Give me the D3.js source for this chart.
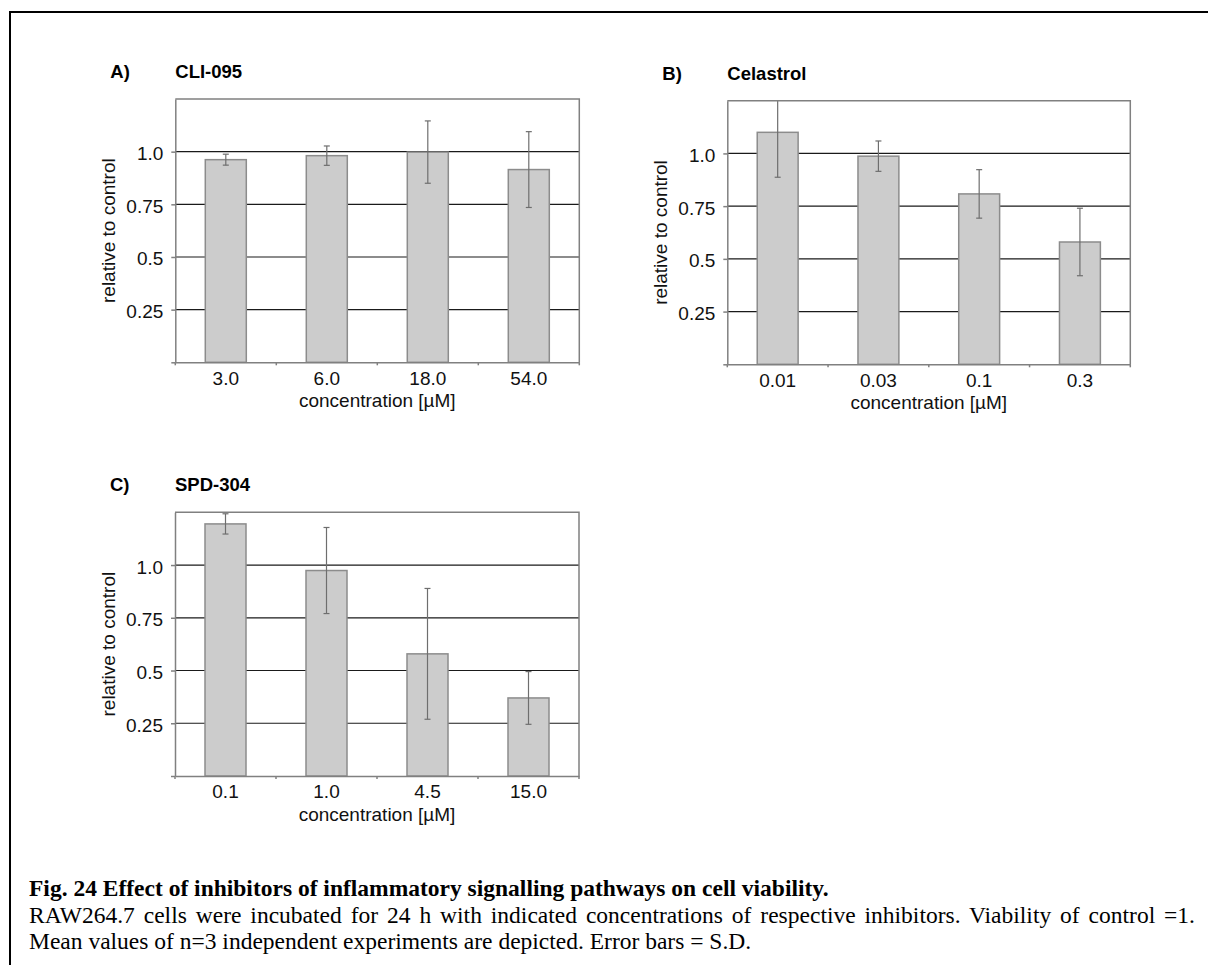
<!DOCTYPE html>
<html><head><meta charset="utf-8">
<script src="https://cdn.jsdelivr.net/npm/d3@7"></script>
<style>body{margin:0;background:#fff} svg{display:block}</style>
</head><body><svg id="c" width="1208" height="965"></svg>
<script>
// ---- data ----
const panelLetters = ["A)", "B)", "C)"];
const panelTitles = ["CLI-095", "Celastrol", "SPD-304"];

const categoriesA = ["3.0", "6.0", "18.0", "54.0"];
const meansA = [0.962, 0.981, 0.998, 0.915];
const sdA = [0.026, 0.046, 0.148, 0.18];

const categoriesB = ["0.01", "0.03", "0.1", "0.3"];
const meansB = [1.10, 0.987, 0.808, 0.58];
const sdB = [0.213, 0.072, 0.115, 0.16];

const categoriesC = ["0.1", "1.0", "4.5", "15.0"];
const meansC = [1.195, 0.974, 0.579, 0.37];
const sdC = [0.048, 0.204, 0.31, 0.125];

const yTickValues = [0, 0.25, 0.5, 0.75, 1.0];
const yTickLabels = ["", "0.25", "0.5", "0.75", "1.0"];
const yMax = 1.25;
const yAxisTitle = "relative to control";
const xAxisTitle = "concentration [µM]";

const captionTitle = "Fig. 24 Effect of inhibitors of inflammatory signalling pathways on cell viability.";
const captionLines = [
  "RAW264.7 cells were incubated for 24 h with indicated concentrations of respective inhibitors. Viability of control =1.",
  "Mean values of n=3 independent experiments are depicted. Error bars = S.D."
];

// ---- drawing ----
const svg = d3.select("#c");
const SANS = "'Liberation Sans', Arial, sans-serif";
const SERIF = "'Liberation Serif', 'Times New Roman', serif";
const GRAY = "#808080";

svg.append("path").attr("d", "M10,965V12H1208")
  .attr("fill", "none").attr("stroke", "#000").attr("stroke-width", 2);

const panels = [
  {cats: categoriesA, m: meansA, sd: sdA, x: 175.3, y: 99, w: 404, h: 263.3},
  {cats: categoriesB, m: meansB, sd: sdB, x: 727.3, y: 100.7, w: 403, h: 263.6},
  {cats: categoriesC, m: meansC, sd: sdC, x: 175, y: 512.3, w: 404, h: 263.7}
];

panels.forEach((p, i) => {
  const g = svg.append("g").attr("transform", `translate(${p.x},${p.y})`);
  const x = d3.scaleBand().domain(p.cats).range([0, p.w]).paddingInner(0.594).paddingOuter(0.297);
  const y = d3.scaleLinear().domain([0, yMax]).range([p.h, 0]);
  const step = x.step();
  const off = (step - x.bandwidth()) / 2;

  g.selectAll(".grid").data(yTickValues.filter(v => v > 0)).join("line")
    .attr("x1", 0).attr("x2", p.w).attr("y1", d => y(d)).attr("y2", d => y(d))
    .attr("stroke", "#1a1a1a").attr("stroke-width", 1.2);

  g.selectAll(".bar").data(p.cats).join("rect")
    .attr("x", d => x(d)).attr("width", x.bandwidth())
    .attr("y", (d, j) => y(p.m[j])).attr("height", (d, j) => y(0) - y(p.m[j]))
    .attr("fill", "#cccccc").attr("stroke", "#8c8c8c").attr("stroke-width", 1.5);

  p.cats.forEach((c, j) => {
    const cx = x(c) + x.bandwidth() / 2;
    const hiV = p.m[j] + p.sd[j], loV = p.m[j] - p.sd[j];
    const hi = y(Math.min(yMax, hiV)), lo = y(Math.max(0, loV));
    const eg = g.append("g").attr("stroke", "#6e6e6e").attr("stroke-width", 1.2);
    eg.append("line").attr("x1", cx).attr("x2", cx).attr("y1", hi).attr("y2", lo);
    if (hiV <= yMax) eg.append("line").attr("x1", cx - 3).attr("x2", cx + 3).attr("y1", hi).attr("y2", hi);
    if (loV >= 0) eg.append("line").attr("x1", cx - 3).attr("x2", cx + 3).attr("y1", lo).attr("y2", lo);
  });

  g.append("path").attr("d", `M0,${y(yMax)}H${p.w}V${y(0)}`)
    .attr("fill", "none").attr("stroke", GRAY).attr("stroke-width", 1.5);

  const ya = g.append("g").call(d3.axisLeft(y).tickValues(yTickValues)
      .tickFormat((d, k) => yTickLabels[k]).tickSize(4).tickSizeOuter(0).tickPadding(8));
  ya.select(".domain").attr("stroke", GRAY).attr("stroke-width", 1.5);
  ya.selectAll(".tick line").attr("stroke", GRAY).attr("stroke-width", 1.5);
  ya.selectAll(".tick text").attr("font-family", SANS).attr("font-size", 19).attr("fill", "#111").attr("dy", "0.42em");

  const xa = g.append("g").attr("transform", `translate(0,${p.h})`)
    .call(d3.axisBottom(x).tickSize(0).tickSizeOuter(0).tickPadding(8));
  xa.select(".domain").attr("stroke", GRAY).attr("stroke-width", 1.5);
  xa.selectAll(".tick text").attr("font-family", SANS).attr("font-size", 19).attr("fill", "#111").attr("dy", "0.75em");
  const bounds = p.cats.map(c => x(c) - off).concat([x(p.cats[p.cats.length - 1]) + x.bandwidth() + off]);
  xa.selectAll(".btick").data(bounds).join("line")
    .attr("x1", d => d).attr("x2", d => d).attr("y1", 0).attr("y2", 3)
    .attr("stroke", GRAY).attr("stroke-width", 1.5);

  g.append("text").attr("transform", `translate(${-60},${p.h / 2}) rotate(-90)`)
    .attr("text-anchor", "middle").attr("font-family", SANS).attr("font-size", 19).attr("fill", "#111")
    .text(yAxisTitle);
  g.append("text").attr("x", p.w / 2).attr("y", p.h + 45)
    .attr("text-anchor", "middle").attr("font-family", SANS).attr("font-size", 19).attr("fill", "#111")
    .text(xAxisTitle);

  g.append("text").attr("x", -65).attr("y", -21).attr("font-family", SANS).attr("font-weight", "bold")
    .attr("font-size", 18.5).attr("fill", "#000").text(panelLetters[i]);
  g.append("text").attr("x", 0).attr("y", -21).attr("font-family", SANS).attr("font-weight", "bold")
    .attr("font-size", 18.5).attr("fill", "#000").text(panelTitles[i]);
});

// caption
const cap = svg.append("g").attr("font-family", SERIF).attr("fill", "#000").attr("font-size", 23.5);
cap.append("text").attr("x", 29).attr("y", 896).attr("font-weight", "bold").text(captionTitle);
const lines = cap.selectAll(".cl").data(captionLines).join("text")
  .attr("x", 29).attr("y", (d, k) => 922.5 + k * 26.5)
  .text(d => d);
// justify the first body line with word spacing (as in the source document)
const first = lines.filter((d, k) => k === 0).node();
const natural = first.getComputedTextLength();
const nSpaces = captionLines[0].split(" ").length - 1;
d3.select(first).attr("word-spacing", Math.max(0, (1166 - natural) / nSpaces));
</script></body></html>
